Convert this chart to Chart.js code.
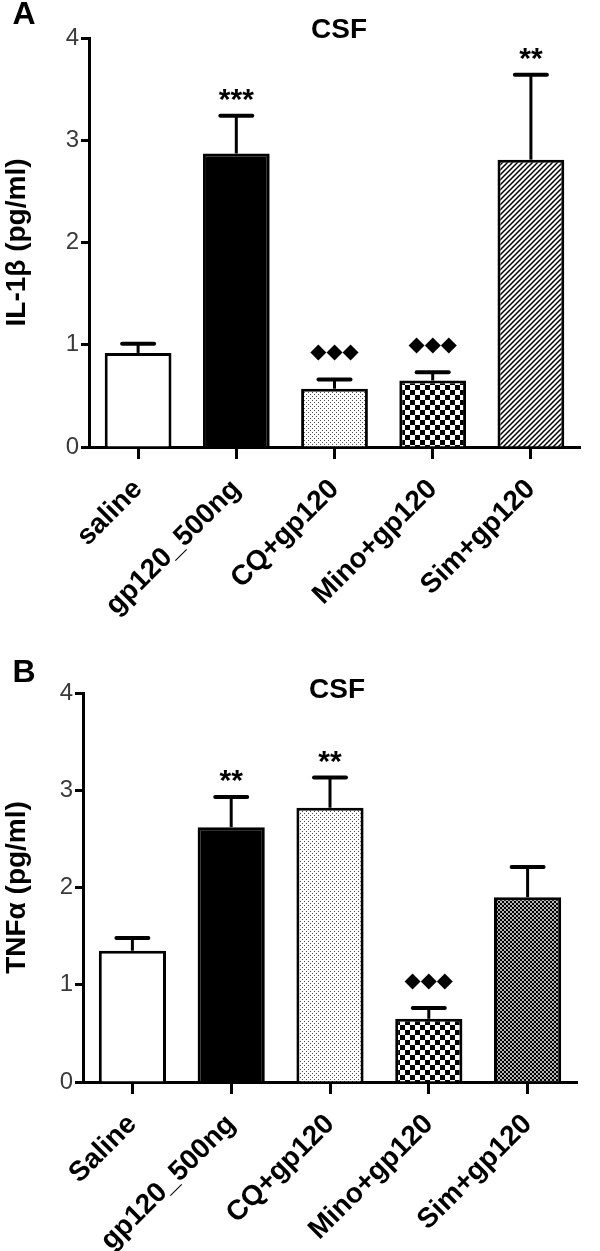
<!DOCTYPE html>
<html>
<head>
<meta charset="utf-8">
<script src="https://cdn.jsdelivr.net/npm/chart.js@4.4.1/dist/chart.umd.min.js"></script>
<style>
  html, body { margin: 0; padding: 0; background: #fff; }
  #wrap { position: relative; width: 600px; height: 1251px; overflow: hidden; }
  canvas { position: absolute; left: 0; }
  #cA { top: 0; }
  #cB { top: 625px; }
</style>
</head>
<body>
<div id="wrap">
  <canvas id="cA" width="600" height="625"></canvas>
  <canvas id="cB" width="600" height="626"></canvas>
</div>
<script>
// panel A: IL-1beta in CSF
const groupsA = ['saline', 'gp120_500ng', 'CQ+gp120', 'Mino+gp120', 'Sim+gp120'];
const meanA = [0.92, 2.87, 0.57, 0.65, 2.81];
const semA = [0.09, 0.37, 0.09, 0.08, 0.83];
const sigA = ['', '***', '\u25C6\u25C6\u25C6', '\u25C6\u25C6\u25C6', '**'];

// panel B: TNF-alpha in CSF
const groupsB = ['Saline', 'gp120_500ng', 'CQ+gp120', 'Mino+gp120', 'Sim+gp120'];
const meanB = [1.35, 2.62, 2.82, 0.65, 1.90];
const semB = [0.13, 0.31, 0.31, 0.11, 0.31];
const sigB = ['', '**', '**', '\u25C6\u25C6\u25C6', ''];

const yTicks = [0, 1, 2, 3, 4];

const FONT = "'Liberation Sans', Arial, Helvetica, sans-serif";

function makePattern(size, paint) {
  const c = document.createElement('canvas');
  c.width = c.height = size;
  const g = c.getContext('2d');
  g.fillStyle = '#fff';
  g.fillRect(0, 0, size, size);
  paint(g, size);
  return g.createPattern(c, 'repeat');
}

const dots = makePattern(4, g => {
  g.fillStyle = '#4a4a4a';
  g.fillRect(0, 0, 1, 1);
  g.fillRect(2, 2, 1, 1);
});
const checker = makePattern(10, g => {
  g.fillStyle = '#000';
  g.fillRect(0, 0, 5, 5);
  g.fillRect(5, 5, 5, 5);
});
const hatch = makePattern(5, (g, s) => {
  g.strokeStyle = '#000';
  g.lineWidth = 1.5;
  g.beginPath();
  g.moveTo(-1, s + 1); g.lineTo(s + 1, -1);
  g.moveTo(-1, 1); g.lineTo(1, -1);
  g.moveTo(s - 1, s + 1); g.lineTo(s + 1, s - 1);
  g.stroke();
});
const mesh = makePattern(4, g => {
  g.fillStyle = '#000';
  g.fillRect(0, 0, 4, 4);
  g.fillStyle = '#fff';
  g.beginPath();
  g.arc(1, 1, 0.95, 0, Math.PI * 2);
  g.arc(3, 3, 0.95, 0, Math.PI * 2);
  g.fill();
});

const fillsA = ['#fff', '#000', dots, checker, hatch];
const fillsB = ['#fff', '#000', dots, checker, mesh];

// error bars, significance marks, panel letter and title
const overlay = {
  id: 'overlay',
  afterDatasetsDraw(chart, args, o) {
    const ctx = chart.ctx;
    const y = chart.scales.y;
    const meta = chart.getDatasetMeta(0);
    ctx.save();
    ctx.strokeStyle = '#000';
    ctx.fillStyle = '#000';
    o.mean.forEach((m, i) => {
      const px = meta.data[i].x;
      const top = y.getPixelForValue(m);
      const cap = y.getPixelForValue(m + o.sem[i]);
      ctx.lineWidth = 3;
      ctx.lineCap = 'butt';
      ctx.beginPath();
      ctx.moveTo(px, top);
      ctx.lineTo(px, cap);
      ctx.stroke();
      ctx.lineWidth = 4;
      ctx.lineCap = 'round';
      ctx.beginPath();
      ctx.moveTo(px - 16, cap);
      ctx.lineTo(px + 16, cap);
      ctx.stroke();
      const s = o.sig[i];
      if (s) {
        ctx.textAlign = 'center';
        ctx.textBaseline = 'middle';
        if (s.charAt(0) === '*') {
          ctx.font = 'bold 30px ' + FONT;
          ctx.fillText(s, px, cap - 15);
        } else {
          ctx.font = "21px 'DejaVu Sans'";
          ctx.fillText(s, px, cap - 27);
        }
      }
    });
    ctx.textAlign = 'center';
    ctx.textBaseline = 'middle';
    ctx.font = 'bold 32px ' + FONT;
    ctx.fillText(o.letter, o.letterX, o.letterY);
    ctx.font = 'bold 28px ' + FONT;
    ctx.fillText(o.title, o.titleX, o.titleY);
    ctx.restore();
  }
};

function makeChart(id, groups, mean, fills, yTitle, area, extra) {
  const canvas = document.getElementById(id);
  const H = canvas.height;
  return new Chart(canvas, {
    type: 'bar',
    data: {
      labels: groups,
      datasets: [{
        data: mean,
        backgroundColor: fills,
        borderColor: '#000',
        borderWidth: 3,
        barPercentage: 0.68,
        categoryPercentage: 1
      }]
    },
    options: {
      responsive: false,
      animation: false,
      events: [],
      layout: { padding: { top: area.top, left: 0, right: 600 - area.right, bottom: 0 } },
      plugins: {
        legend: { display: false },
        tooltip: { enabled: false },
        overlay: extra
      },
      scales: {
        x: {
          z: 1,
          offset: true,
          border: { color: '#000', width: 3 },
          grid: { offset: false, drawOnChartArea: false, drawTicks: true, tickLength: 12, tickWidth: 3, tickColor: '#000' },
          ticks: {
            color: '#000',
            font: { family: FONT, size: 28, weight: 'bold' },
            minRotation: 45,
            maxRotation: 45,
            padding: 14,
            autoSkip: false
          },
          afterFit(s) { s.height = H - area.bottom; }
        },
        y: {
          z: 1,
          min: 0,
          max: 4,
          afterBuildTicks(s) { s.ticks = yTicks.map(v => ({ value: v })); },
          border: { color: '#000', width: 3 },
          grid: { drawOnChartArea: false, drawTicks: true, tickLength: 8, tickWidth: 3, tickColor: '#000' },
          ticks: {
            color: '#3a3a3a',
            font: { family: FONT, size: 24 },
            padding: 2
          },
          title: {
            display: true,
            text: yTitle,
            color: '#000',
            font: { family: FONT, size: 28, weight: 'bold' },
            padding: { top: 0, bottom: 0 }
          },
          afterFit(s) { s.width = area.left; }
        }
      }
    },
    plugins: [overlay]
  });
}

makeChart('cA', groupsA, meanA, fillsA, 'IL-1\u03B2 (pg/ml)',
  { top: 38, bottom: 447, left: 89, right: 580 },
  { mean: meanA, sem: semA, sig: sigA, letter: 'A', letterX: 24, letterY: 15, title: 'CSF', titleX: 339, titleY: 30 });

makeChart('cB', groupsB, meanB, fillsB, 'TNF\u03B1 (pg/ml)',
  { top: 68, bottom: 457, left: 83, right: 577 },
  { mean: meanB, sem: semB, sig: sigB, letter: 'B', letterX: 24, letterY: 48, title: 'CSF', titleX: 337, titleY: 65 });
</script>
</body>
</html>
